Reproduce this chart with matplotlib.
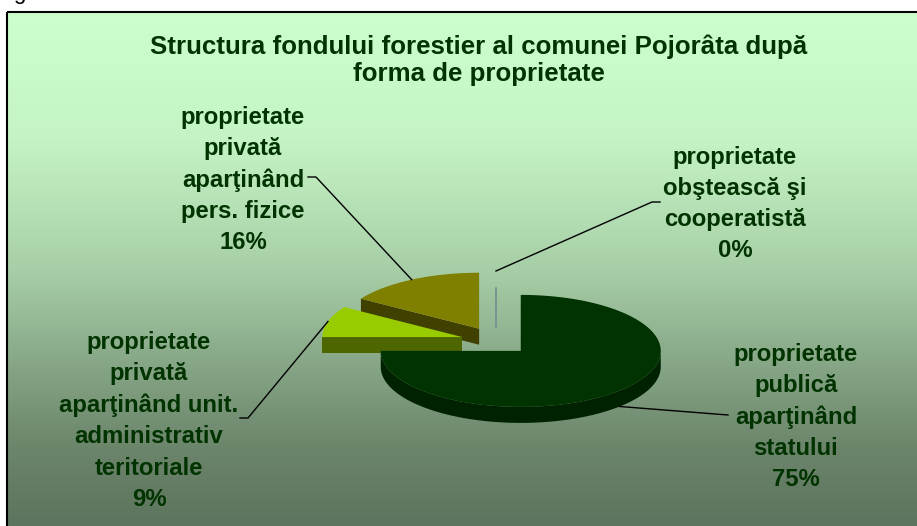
import numpy as np
import matplotlib
matplotlib.use('Agg')
import matplotlib.pyplot as plt
from matplotlib.colors import LinearSegmentedColormap
from matplotlib.patches import Polygon, Rectangle

# chart data
title = "Structura fondului forestier al comunei Pojorâta după\nforma de proprietate"
categories = ["proprietate\npublică\naparţinând\nstatului",
              "proprietate\nprivată\naparţinând unit.\nadministrativ\nteritoriale",
              "proprietate\nprivată\naparţinând\npers. fizice",
              "proprietate\nobştească şi\ncooperatistă"]
values = [75, 9, 16, 0]

# styles
top_colors = ['#003300', '#99cc00', '#808000', '#6f8f8f']
side_colors = ['#002200', '#4d6600', '#404000', '#6f8f8f']
text_color = '#003300'
label_pos = [(796, 417), (149, 421), (243, 180), (735, 204)]
label_knee = [[(728, 415)], [(248, 418), (240, 418)],
              [(316, 177), (308, 177)], [(652, 202), (660, 202)]]

W, H = 917, 526
cx, cy = 496, 341
rx, ry = 140, 56
depth = 16
explode = 0.25

plt.rcParams['font.family'] = ['Liberation Sans', 'DejaVu Sans']

fig = plt.figure(figsize=(W / 100, H / 100), dpi=100)
ax = fig.add_axes([0, 0, 1, 1])
ax.set_xlim(0, W)
ax.set_ylim(H, 0)
ax.axis('off')

# gradient background of the chart area
cmap = LinearSegmentedColormap.from_list('bg', [
    (0.0, '#ccffcc'), (0.25, '#c5f3c5'), (0.5, '#a7cfa7'),
    (0.7, '#84a384'), (0.85, '#6b856b'), (1.0, '#5d735d')])
grad = np.linspace(0, 1, 256).reshape(-1, 1)
ax.imshow(grad, cmap=cmap, aspect='auto', extent=(7, W + 5, H, 12),
          zorder=0, interpolation='bicubic')
ax.add_patch(Rectangle((7, 12), W, H, fill=False, edgecolor='black',
                       linewidth=1.5, zorder=1))
# fragment of the caption above the chart, cut by the picture edge
ax.text(13, -1, "g", fontsize=16, va='baseline', ha='left', color='black')

ax.text(479, 60, title, ha='center', va='center', fontsize=18.6,
        fontweight='bold', color=text_color, linespacing=1.15)


def pt(ox, oy, th, dz=0.0):
    return (ox + rx * np.cos(th), oy - ry * np.sin(th) + dz)


# slice angles, starting at 12 o'clock, clockwise
fracs = np.array(values, dtype=float) / sum(values)
starts = np.pi / 2 - 2 * np.pi * np.concatenate([[0], np.cumsum(fracs)[:-1]])
ends = starts - 2 * np.pi * fracs
mids = (starts + ends) / 2

order = np.argsort(-np.sin(mids))  # back to front
anchors = {}
for i in order:
    th1, th2, m = starts[i], ends[i], mids[i]
    ox = cx + explode * rx * np.cos(m)
    oy = cy - explode * ry * np.sin(m)
    if values[i] == 0:
        p = pt(ox, oy, th1)
        ax.plot([ox, ox + 0.7 * (p[0] - ox)], [oy, oy + 0.7 * (p[1] - oy)],
                color=side_colors[i], lw=1.2, zorder=2)
        anchors[i] = (p[0], p[1])
        continue
    z = 2 + list(order).index(i) * 3
    # radial side faces
    for a, sgn in ((th1, -1), (th2, 1)):
        if sgn * np.cos(a) > 1e-9:
            p = pt(ox, oy, a)
            ax.add_patch(Polygon([(ox, oy), p, (p[0], p[1] + depth),
                                  (ox, oy + depth)], closed=True,
                                 facecolor=side_colors[i], edgecolor='none',
                                 zorder=z))
    # outer curved side (front half only)
    t = np.linspace(th1, th2, 200)
    front = t[np.sin(t) <= 0]
    if len(front) > 1:
        upper = [pt(ox, oy, a) for a in front]
        lower = [pt(ox, oy, a, depth) for a in front[::-1]]
        ax.add_patch(Polygon(upper + lower, closed=True,
                             facecolor=side_colors[i], edgecolor='none',
                             zorder=z + 1))
    # top face
    top = [(ox, oy)] + [pt(ox, oy, a) for a in t]
    ax.add_patch(Polygon(top, closed=True, facecolor=top_colors[i],
                         edgecolor='none', zorder=z + 2))
    dz = depth if np.sin(m) < 0 else 0
    anchors[i] = pt(ox, oy, m, dz)

# labels and leader lines
for i in range(len(values)):
    pct = int(round(100 * fracs[i]))
    ax.text(label_pos[i][0], label_pos[i][1], f"{categories[i]}\n{pct}%",
            ha='center', va='center', fontsize=17.2, fontweight='bold',
            color=text_color, linespacing=1.45, zorder=20)
    xs = [anchors[i][0]] + [k[0] for k in label_knee[i]]
    ys = [anchors[i][1]] + [k[1] for k in label_knee[i]]
    ax.plot(xs, ys, color='black', lw=1, zorder=19)

fig.savefig('out.png', dpi=100)
